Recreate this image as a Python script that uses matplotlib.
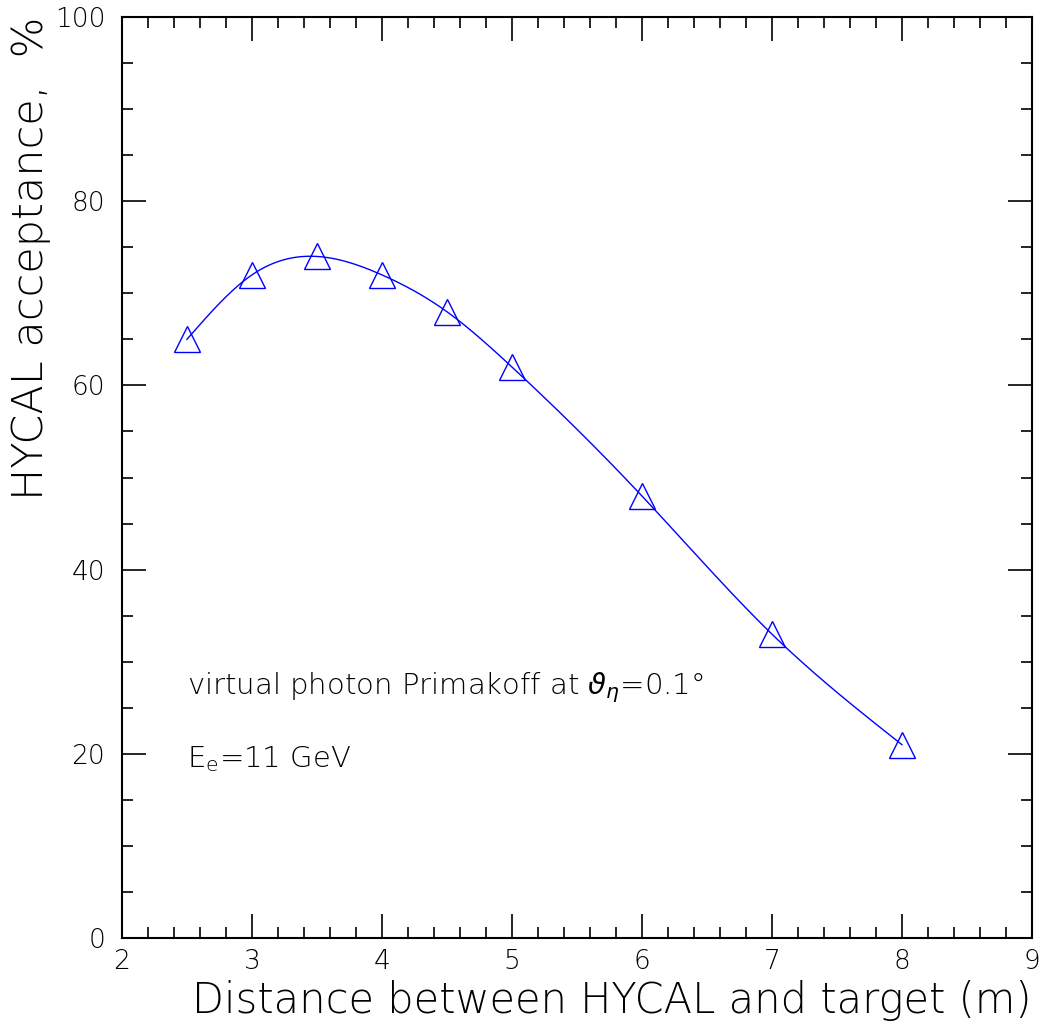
import numpy as np
from matplotlib import pyplot as plt
from matplotlib.ticker import MultipleLocator

# data
distance = [2.5, 3.0, 3.5, 4.0, 4.5, 5.0, 6.0, 7.0, 8.0]
acceptance = [65.0, 72.0, 74.0, 72.0, 68.0, 62.0, 48.0, 33.0, 21.0]


def natural_spline(x, y, xs):
    # natural cubic spline through the points, for the smooth line
    x = np.asarray(x, float)
    y = np.asarray(y, float)
    n = len(x)
    h = np.diff(x)
    A = np.zeros((n, n))
    b = np.zeros(n)
    A[0, 0] = A[-1, -1] = 1
    for i in range(1, n - 1):
        A[i, i - 1] = h[i - 1]
        A[i, i] = 2 * (h[i - 1] + h[i])
        A[i, i + 1] = h[i]
        b[i] = 3 * ((y[i + 1] - y[i]) / h[i] - (y[i] - y[i - 1]) / h[i - 1])
    c = np.linalg.solve(A, b)
    out = np.empty_like(xs)
    for k, t in enumerate(xs):
        i = min(max(np.searchsorted(x, t) - 1, 0), n - 2)
        d = t - x[i]
        bi = (y[i + 1] - y[i]) / h[i] - h[i] * (2 * c[i] + c[i + 1]) / 3
        di = (c[i + 1] - c[i]) / (3 * h[i])
        out[k] = y[i] + bi * d + c[i] * d ** 2 + di * d ** 3
    return out


plt.rcParams['font.family'] = ['DejaVu Sans']
plt.rcParams['font.weight'] = 'light'
plt.rcParams['axes.labelweight'] = 'light'
plt.rcParams['mathtext.fontset'] = 'dejavusans'

fig = plt.figure(figsize=(10.54, 10.28), dpi=100)
ax = fig.add_axes([0.1157, 0.0875, 0.8633, 0.896])

xs = np.linspace(distance[0], distance[-1], 400)
ax.plot(xs, natural_spline(distance, acceptance, xs), color='blue', lw=1)
ax.plot(distance, acceptance, linestyle='none', marker='^', markersize=19,
        markerfacecolor='none', markeredgecolor='blue', markeredgewidth=1)

ax.set_xlim(2, 9)
ax.set_ylim(0, 100)
ax.xaxis.set_major_locator(MultipleLocator(1))
ax.xaxis.set_minor_locator(MultipleLocator(0.2))
ax.yaxis.set_major_locator(MultipleLocator(20))
ax.yaxis.set_minor_locator(MultipleLocator(5))
ax.tick_params(which='both', direction='in', top=True, right=True,
               labelsize=19, width=1.2)
ax.tick_params(axis='y', pad=12)
ax.tick_params(axis='x', pad=8)
ax.tick_params(which='major', length=17)
ax.tick_params(which='minor', length=8)
for s in ax.spines.values():
    s.set_linewidth(1.5)

ax.set_xlabel('Distance between HYCAL and target (m)', fontsize=30,
              loc='right')
ax.set_ylabel('HYCAL acceptance,  %', fontsize=31, loc='top')
ax.yaxis.set_label_coords(-0.078, 1.0)

ax.text(2.5, 26.5, r'virtual photon Primakoff at $\vartheta_\eta$=0.1°',
        fontsize=21)
ax.text(2.5, 18.5, r'E$_\mathrm{e}$=11 GeV', fontsize=21)

plt.savefig('out.png')
